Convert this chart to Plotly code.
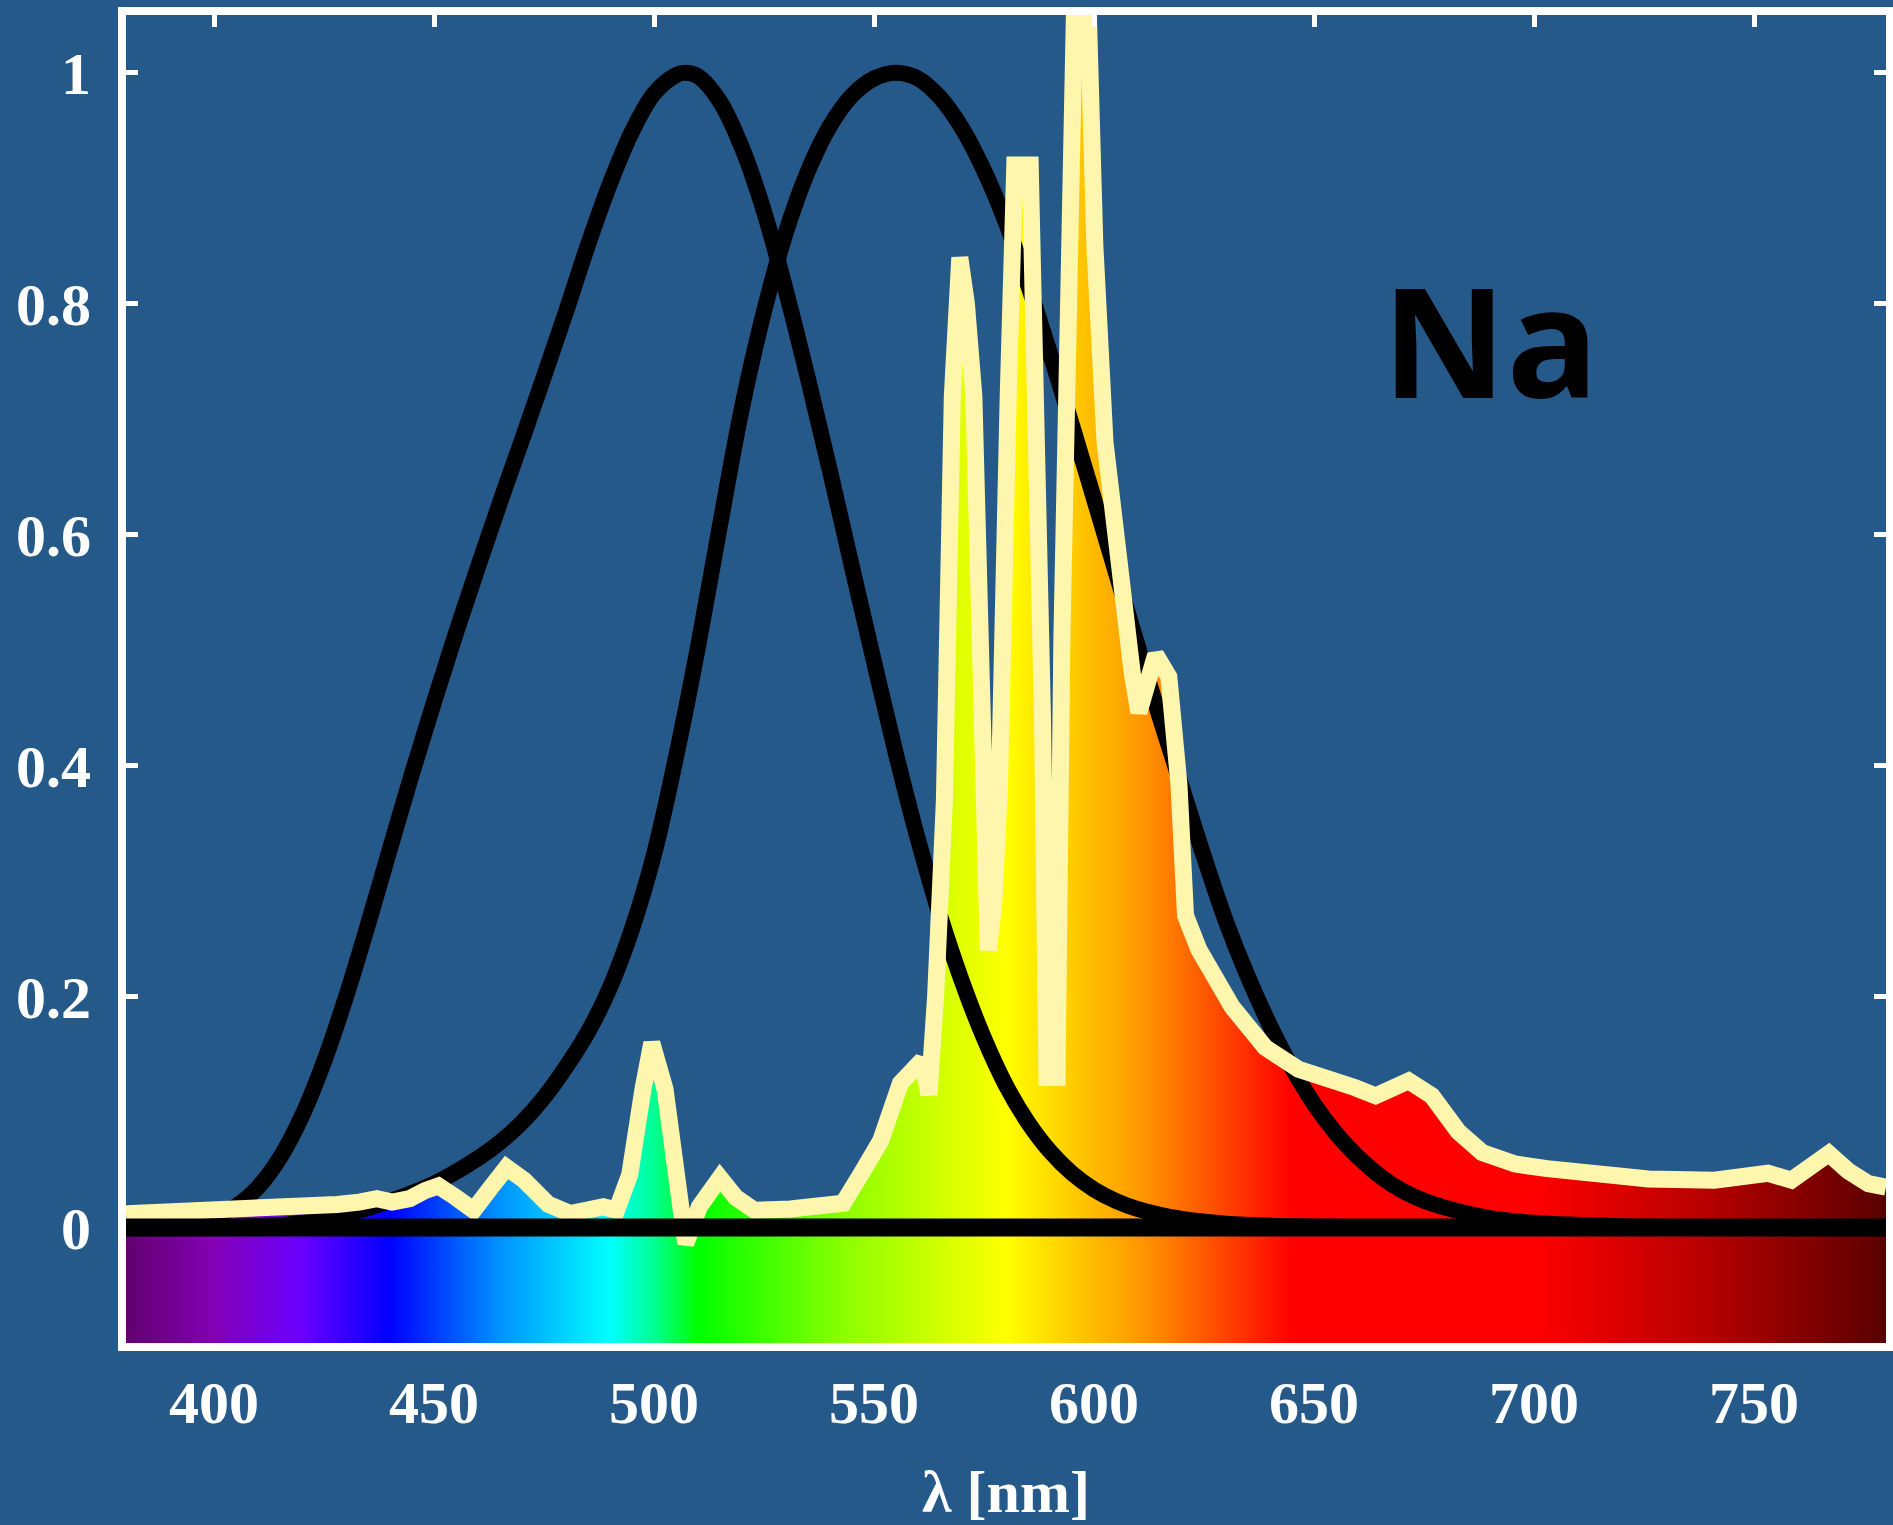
import plotly.graph_objects as go

# ---------------- data ----------------
X_RANGE = [380, 780]
Y_RANGE = [-0.1, 1.05]
X_TICKS = [400, 450, 500, 550, 600, 650, 700, 750]
Y_TICKS = [0, 0.2, 0.4, 0.6, 0.8, 1.0]
Y_TICK_TEXT = ["0", "0.2", "0.4", "0.6", "0.8", "1"]

# scotopic luminosity (left black curve)
SCOT_NM = [380, 390, 400, 405, 410, 415, 420, 425, 430, 435, 440, 445, 450, 455,
           460, 465, 470, 475, 480, 485, 490, 495, 500, 505, 507, 510, 515, 520,
           525, 530, 535, 540, 545, 550, 555, 560, 565, 570, 575, 580, 585, 590,
           595, 600, 605, 610, 620, 630, 640, 660, 700, 780]
SCOT_V = [0.0006, 0.0022, 0.0093, 0.0185, 0.0348, 0.0604, 0.0966, 0.1436, 0.1998,
          0.2625, 0.3281, 0.3931, 0.455, 0.515, 0.572, 0.628, 0.682, 0.737, 0.793,
          0.851, 0.904, 0.949, 0.982, 0.998, 1.0, 0.997, 0.975, 0.935, 0.880,
          0.811, 0.735, 0.655, 0.572, 0.490, 0.410, 0.336, 0.270, 0.213, 0.164,
          0.123, 0.091, 0.066, 0.047, 0.033, 0.023, 0.016, 0.0074, 0.0033,
          0.0015, 0.0003, 0.00002, 0.0]

# photopic luminosity (right black curve)
PHOT_NM = [380, 390, 400, 410, 420, 430, 440, 450, 460, 465, 470, 475, 480, 485,
           490, 495, 500, 505, 510, 515, 520, 525, 530, 535, 540, 545, 550, 555,
           560, 565, 570, 575, 580, 585, 590, 595, 600, 605, 610, 615, 620, 625,
           630, 635, 640, 645, 650, 655, 660, 665, 670, 675, 680, 690, 700, 720,
           740, 760, 780]
PHOT_V = [0.00004, 0.00012, 0.0004, 0.0012, 0.004, 0.0116, 0.023, 0.038, 0.060,
          0.0739, 0.091, 0.1126, 0.139, 0.1693, 0.208, 0.2586, 0.323, 0.4073,
          0.503, 0.6082, 0.710, 0.7932, 0.862, 0.9149, 0.954, 0.9803, 0.995,
          1.0, 0.995, 0.9786, 0.952, 0.9154, 0.870, 0.8163, 0.757, 0.6949,
          0.631, 0.5668, 0.503, 0.4412, 0.381, 0.321, 0.265, 0.217, 0.175,
          0.1382, 0.107, 0.0816, 0.061, 0.0446, 0.032, 0.0232, 0.017, 0.0082,
          0.0041, 0.00105, 0.00025, 0.00006, 0.00002]

# Na lamp emission spectrum (yellow line)
NA_NM = [380, 390, 400, 410, 420, 428, 433, 437, 440.5, 444.5, 448, 451, 455, 459,
         463, 466.5, 470.5, 476, 481, 484, 488.5, 491.5, 494.5, 497.5, 499.5,
         502.5, 505, 507.2, 510.3, 515, 518.6, 522.8, 531, 538, 543, 547, 551.5,
         556, 559, 561, 562.5, 564, 566, 567.8, 569.5, 571, 572.7, 574.6, 576,
         577.2, 578.5, 580.5, 582, 585.5, 587, 588.3, 589.3, 591.6, 592.7, 594.2,
         595.7, 598.5, 600.2, 602.5, 605.6, 608.7, 610.2, 614, 617, 619.3, 620.8,
         623.8, 631.4, 638.9, 646.5, 654, 659.4, 664, 671.5, 676.8, 682.8, 688.2,
         695.7, 703, 711, 726, 741, 748.7, 753.2, 758.5, 767, 771.4, 776, 780]
NA_V = [0.012, 0.013, 0.014, 0.016, 0.018, 0.020, 0.022, 0.025, 0.022, 0.025,
        0.032, 0.036, 0.026, 0.015, 0.035, 0.052, 0.041, 0.020, 0.012, 0.015,
        0.018, 0.015, 0.046, 0.120, 0.160, 0.120, 0.046, -0.014, 0.018, 0.043,
        0.026, 0.015, 0.016, 0.018, 0.021, 0.046, 0.075, 0.125, 0.140, 0.145,
        0.115, 0.200, 0.370, 0.720, 0.840, 0.800, 0.720, 0.500, 0.240, 0.280,
        0.380, 0.720, 0.920, 0.920, 0.720, 0.440, 0.130, 0.130, 0.510, 0.920,
        1.080, 1.080, 0.850, 0.680, 0.570, 0.480, 0.446, 0.496, 0.477, 0.384,
        0.270, 0.241, 0.191, 0.156, 0.137, 0.129, 0.121, 0.114, 0.127, 0.114,
        0.083, 0.065, 0.055, 0.051, 0.047, 0.042, 0.041, 0.044, 0.047, 0.041,
        0.064, 0.049, 0.038, 0.035]

# visible spectrum colour stops
SPEC_NM = [380, 400, 420, 440, 465, 490, 500, 510, 545, 580, 612, 645, 700, 740, 780]
SPEC_RGB = ["rgb(97,0,110)", "rgb(131,0,181)", "rgb(106,0,255)", "rgb(0,0,255)",
            "rgb(0,146,255)", "rgb(0,255,255)", "rgb(0,255,146)", "rgb(0,255,0)",
            "rgb(146,255,0)", "rgb(255,255,0)", "rgb(255,146,0)", "rgb(255,0,0)",
            "rgb(255,0,0)", "rgb(181,0,0)", "rgb(90,0,0)"]

# ---------------- style ----------------
BG = "#25598a"
YELLOW = "#fff6ad"
TICK_FONT = dict(family="Liberation Serif", size=60, color="white", weight="bold")

span = X_RANGE[1] - X_RANGE[0]
colorscale = [[(nm - X_RANGE[0]) / span, c] for nm, c in zip(SPEC_NM, SPEC_RGB)]
gradient = dict(type="horizontal", colorscale=colorscale,
                start=X_RANGE[0], stop=X_RANGE[1])

fig = go.Figure()

# spectrum bar under the axis
fig.add_trace(go.Scatter(
    x=[X_RANGE[0], X_RANGE[1], X_RANGE[1], X_RANGE[0], X_RANGE[0]],
    y=[Y_RANGE[0], Y_RANGE[0], 0, 0, Y_RANGE[0]],
    mode="lines", line=dict(width=0), fill="toself", fillgradient=gradient,
    hoverinfo="skip"))

# emission fill
fig.add_trace(go.Scatter(
    x=NA_NM, y=NA_V, mode="lines", line=dict(width=0),
    fill="tozeroy", fillgradient=gradient, hoverinfo="skip"))

# luminosity curves
fig.add_trace(go.Scatter(x=SCOT_NM, y=SCOT_V, mode="lines",
                         line=dict(color="black", width=16, shape="spline")))
fig.add_trace(go.Scatter(x=PHOT_NM, y=PHOT_V, mode="lines",
                         line=dict(color="black", width=16, shape="spline")))

# emission line
fig.add_trace(go.Scatter(x=NA_NM, y=NA_V, mode="lines",
                         line=dict(color=YELLOW, width=17)))

# helper trace for top tick axis
fig.add_trace(go.Scatter(x=[X_RANGE[0]], y=[0], xaxis="x2", mode="markers",
                         marker=dict(opacity=0), hoverinfo="skip"))

# zero line on top
fig.add_shape(type="line", xref="paper", x0=0, x1=1, yref="y", y0=0, y1=0,
              line=dict(color="black", width=18), layer="above")

fig.add_annotation(text="Na", x=690.0, y=0.770, xref="x", yref="y",
                   showarrow=False,
                   font=dict(family="Open Sans", size=153, color="black", weight="bold"))

fig.update_layout(
    width=1893, height=1525,
    margin=dict(l=126, r=7, t=15, b=182, autoexpand=False),
    paper_bgcolor=BG, plot_bgcolor=BG, showlegend=False,
    xaxis=dict(range=X_RANGE, tickvals=X_TICKS, ticks="", showline=True,
               linecolor="white", linewidth=8, mirror=True, showgrid=False,
               zeroline=False, tickfont=TICK_FONT, ticklabelstandoff=0,
               automargin=False,
               title=dict(text="λ [nm]", font=TICK_FONT, standoff=50)),
    xaxis2=dict(range=X_RANGE, tickvals=X_TICKS, overlaying="x", side="top",
                ticks="inside", ticklen=12, tickwidth=5, tickcolor="white",
                showticklabels=False, showline=False, showgrid=False,
                zeroline=False, automargin=False),
    yaxis=dict(range=Y_RANGE, tickvals=Y_TICKS, ticktext=Y_TICK_TEXT,
               ticks="inside", ticklen=12, tickwidth=5, tickcolor="white",
               showline=True, linecolor="white", linewidth=8, mirror="ticks",
               showgrid=False, zeroline=False, tickfont=TICK_FONT,
               ticklabelstandoff=15, automargin=False),
)

fig.write_html("out.html")
